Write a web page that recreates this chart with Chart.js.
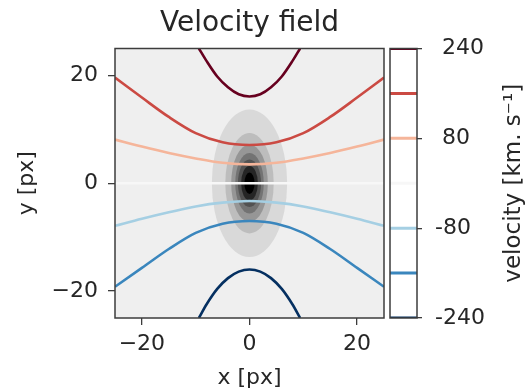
<!DOCTYPE html>
<html>
<head>
<meta charset="utf-8">
<script src="https://cdn.jsdelivr.net/npm/chart.js@4"></script>
<style>
  html, body { margin: 0; padding: 0; background: #fff; }
  #wrap { position: relative; width: 528px; height: 392px; }
  #wrap canvas { position: absolute; left: 0; top: 0; }
</style>
</head>
<body>
<div id="wrap">
  <canvas id="field" width="528" height="392"></canvas>
  <canvas id="cbar" width="528" height="392"></canvas>
</div>
<script>
// === DATA ===
const levels = [-240, -160, -80, 0, 80, 160, 240];
const levelColors = ["#053061", "#3a86bd", "#a5cfe3", "#f7f7f7", "#f5b59a", "#cb4a43", "#67001f"];
const cbarTicks = [-240, -80, 80, 240];
const axisTicks = [-20, 0, 20];

// velocity contours (x, y in px)
const xWide = [-25, -20, -15, -10, -5, 0, 5, 10, 15, 20, 25];
const yNeg160 = [-19.2, -15.7, -12.2, -9.2, -7.5, -7.0, -7.5, -9.2, -12.2, -15.7, -19.2];
const yNeg80 = [-7.9, -6.6, -5.4, -4.3, -3.6, -3.3, -3.6, -4.3, -5.4, -6.6, -7.9];
const yPos80 = [8.1, 6.8, 5.6, 4.6, 3.8, 3.5, 3.8, 4.6, 5.6, 6.8, 8.1];
const yPos160 = [19.6, 15.9, 12.3, 9.3, 7.6, 7.1, 7.6, 9.3, 12.3, 15.9, 19.6];
const xZero = [-25, 25];
const yZero = [0, 0];
const xCap = [-9.4, -8, -6, -4, -2, 0, 2, 4, 6, 8, 9.4];
const yNeg240 = [-25, -22.5, -19.6, -17.6, -16.4, -16.0, -16.4, -17.6, -19.6, -22.5, -25];
const yPos240 = [25, 22.7, 19.8, 17.8, 16.5, 16.1, 16.5, 17.8, 19.8, 22.7, 25];

// flux blob, filled levels from outside in (Greys)
const blobGrays = ["#d9d9d9", "#bdbdbd", "#969696", "#737373", "#525252", "#252525", "#000000"];
const blobSemiX = [7.0, 4.5, 3.4, 2.65, 2.15, 1.55, 0.95];
const blobSemiY = [13.7, 9.3, 7.2, 5.6, 4.4, 3.2, 2.0];

const FONT = "DejaVu Sans";
const TEXT = "#262626";
const EDGE = "#3c3c3c";

function curve(xs, ys, color) {
  return {
    data: xs.map((x, i) => ({ x: x, y: ys[i] })),
    showLine: true,
    borderColor: color,
    borderWidth: 2.6,
    pointRadius: 0,
    cubicInterpolationMode: "monotone",
    fill: false
  };
}

function fmtMinus(v) {
  return v < 0 ? "\u2212" + Math.abs(v) : String(v);
}

// grey background + blob under the contour lines
const blobPlugin = {
  id: "blob",
  beforeDatasetsDraw(chart) {
    const { ctx, chartArea: a, scales: { x, y } } = chart;
    ctx.save();
    ctx.beginPath();
    ctx.rect(a.left, a.top, a.width, a.height);
    ctx.clip();
    ctx.fillStyle = "#efefef";
    ctx.fillRect(a.left, a.top, a.width, a.height);
    const cx = x.getPixelForValue(0), cy = y.getPixelForValue(0);
    blobGrays.forEach((g, i) => {
      const rx = Math.abs(x.getPixelForValue(blobSemiX[i]) - cx);
      const ry = Math.abs(y.getPixelForValue(blobSemiY[i]) - cy);
      ctx.fillStyle = g;
      ctx.beginPath();
      ctx.ellipse(cx, cy, rx, ry, 0, 0, Math.PI * 2);
      ctx.fill();
    });
    ctx.restore();
  },
  afterDatasetsDraw(chart) {
    const { ctx, chartArea: a } = chart;
    ctx.save();
    ctx.strokeStyle = EDGE;
    ctx.lineWidth = 1.5;
    ctx.strokeRect(a.left, a.top, a.width, a.height);
    ctx.restore();
  },
  afterDraw(chart) {
    const { ctx, chartArea: a } = chart;
    ctx.save();
    ctx.fillStyle = TEXT;
    ctx.font = "28px '" + FONT + "'";
    ctx.textAlign = "center";
    ctx.textBaseline = "middle";
    ctx.fillText("Velocity field", (a.left + a.right) / 2, 24);
    ctx.restore();
  }
};

new Chart(document.getElementById("field"), {
  type: "scatter",
  data: {
    datasets: [
      curve(xZero, yZero, levelColors[3]),
      curve(xWide, yNeg80, levelColors[2]),
      curve(xWide, yPos80, levelColors[4]),
      curve(xWide, yNeg160, levelColors[1]),
      curve(xWide, yPos160, levelColors[5]),
      curve(xCap, yNeg240, levelColors[0]),
      curve(xCap, yPos240, levelColors[6])
    ]
  },
  options: {
    responsive: false,
    animation: false,
    layout: { padding: { left: 0, right: 144, top: 48.5, bottom: 0 } },
    plugins: { legend: { display: false }, tooltip: { enabled: false } },
    scales: {
      x: {
        type: "linear", min: -25, max: 25,
        afterBuildTicks(s) { s.ticks = axisTicks.map(v => ({ value: v })); },
        afterFit(s) { s.height = 74; },
        ticks: { font: { family: FONT, size: 22 }, color: TEXT, padding: 6, maxRotation: 0, callback: fmtMinus },
        grid: { drawOnChartArea: false, tickLength: 7, color: EDGE, lineWidth: 1.3 },
        border: { display: false },
        title: { display: true, text: "x [px]", font: { family: FONT, size: 22 }, color: TEXT, padding: { top: 0, bottom: 1 } }
      },
      y: {
        type: "linear", min: -25, max: 25,
        afterBuildTicks(s) { s.ticks = axisTicks.map(v => ({ value: v })); },
        afterFit(s) { s.width = 115; },
        ticks: { font: { family: FONT, size: 22 }, color: TEXT, padding: 10, callback: fmtMinus },
        grid: { drawOnChartArea: false, tickLength: 7, color: EDGE, lineWidth: 1.3 },
        border: { display: false },
        title: { display: true, text: "y [px]", font: { family: FONT, size: 22 }, color: TEXT, padding: { top: 14, bottom: 0 } }
      }
    }
  },
  plugins: [blobPlugin]
});

// === colorbar ===
const cbarPlugin = {
  id: "cbarFrame",
  beforeDatasetsDraw(chart) {
    const { ctx, chartArea: a } = chart;
    ctx.save();
    ctx.fillStyle = "#ffffff";
    ctx.fillRect(a.left, a.top, a.width, a.height);
    ctx.restore();
  },
  afterDatasetsDraw(chart) {
    const { ctx, chartArea: a } = chart;
    ctx.save();
    ctx.strokeStyle = EDGE;
    ctx.lineWidth = 1.5;
    ctx.strokeRect(a.left, a.top, a.width, a.height);
    ctx.restore();
  },
  afterDraw(chart) {
    const { ctx, chartArea: a } = chart;
    ctx.save();
    ctx.fillStyle = TEXT;
    ctx.font = "23px '" + FONT + "'";
    ctx.textAlign = "center";
    ctx.textBaseline = "middle";
    ctx.translate(514, (a.top + a.bottom) / 2);
    ctx.rotate(-Math.PI / 2);
    ctx.fillText("velocity [km. s\u207B\u00B9]", 0, 0);
    ctx.restore();
  }
};

new Chart(document.getElementById("cbar"), {
  type: "scatter",
  data: {
    datasets: levels.map((lv, i) => ({
      data: [{ x: 0, y: lv }, { x: 1, y: lv }],
      showLine: true,
      borderColor: levelColors[i],
      borderWidth: 3,
      pointRadius: 0
    }))
  },
  options: {
    responsive: false,
    animation: false,
    layout: { padding: { left: 390, right: 0, top: 48.5, bottom: 74 } },
    plugins: { legend: { display: false }, tooltip: { enabled: false } },
    scales: {
      x: { type: "linear", min: 0, max: 1, display: false },
      y: {
        type: "linear", position: "right", min: -240, max: 240,
        afterBuildTicks(s) { s.ticks = cbarTicks.map(v => ({ value: v })); },
        afterFit(s) { s.width = 111; },
        // positive labels carry a leading space so the digits line up
        ticks: { font: { family: FONT, size: 22 }, color: TEXT, padding: 13, callback: v => (v >= 0 ? " " : "") + v },
        grid: { drawOnChartArea: false, tickLength: 5, color: EDGE, lineWidth: 1.3 },
        border: { display: false }
      }
    }
  },
  plugins: [cbarPlugin]
});
</script>
</body>
</html>
